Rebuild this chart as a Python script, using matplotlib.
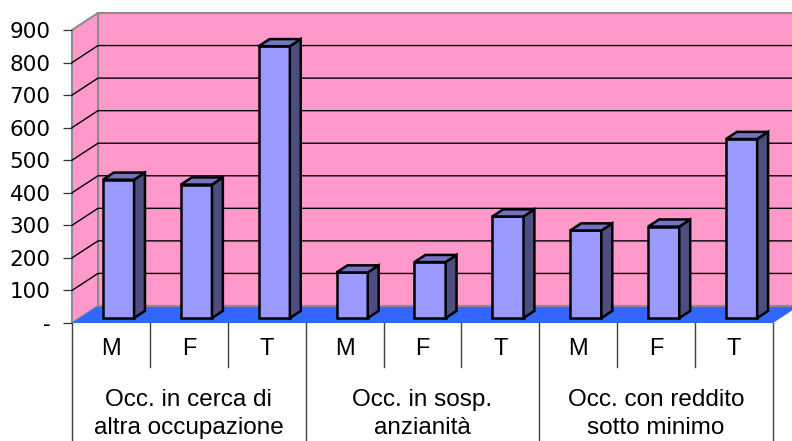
import matplotlib
matplotlib.use("Agg")
import matplotlib.pyplot as plt
from matplotlib.patches import Polygon

# ---- data ----
group_labels = ["Occ. in cerca di\naltra occupazione",
                "Occ. in sosp.\nanzianità",
                "Occ. con reddito\nsotto minimo"]
sex_labels = ["M", "F", "T"]
occ_cerca = [425, 410, 835]
occ_sosp = [140, 172, 312]
occ_reddito = [269, 281, 550]
y_ticks = [0, 100, 200, 300, 400, 500, 600, 700, 800, 900]
y_tick_labels = ["-", "100", "200", "300", "400", "500", "600", "700", "800", "900"]

values = occ_cerca + occ_sosp + occ_reddito
n = len(values)
ymax = y_ticks[-1]

# ---- colours ----
PINK = "#FF99CC"
FLOOR = "#3366FF"
WALL_EDGE = "#8C8C8C"
BAR_FRONT = "#9999FF"
BAR_SIDE = "#4D4D80"
BAR_TOP = "#7373BF"

W, H = 792, 441
fig = plt.figure(figsize=(W / 100, H / 100), dpi=100)
fig.patch.set_facecolor("white")

L, R, T, B = 72, 773, 30, 323  # front plane in pixels
ax = fig.add_axes([L / W, 1 - B / H, (R - L) / W, (B - T) / H])
ax.set_xlim(0, n)
ax.set_ylim(0, ymax)
ax.patch.set_visible(False)
for s in ax.spines.values():
    s.set_visible(False)

px_x = (R - L) / n
px_y = (B - T) / ymax
DX = 26 / px_x
DY = 17 / px_y


def P(x, y, z):
    return (x + z * DX, y + z * DY)


def poly(pts, **kw):
    ax.add_patch(Polygon(pts, closed=True, clip_on=False, **kw))


# back wall
poly([P(0, 0, 1), P(n, 0, 1), P(n, ymax, 1), P(0, ymax, 1)],
     facecolor=PINK, edgecolor=WALL_EDGE, lw=1.5, zorder=1)
# left wall
poly([P(0, 0, 0), P(0, 0, 1), P(0, ymax, 1), P(0, ymax, 0)],
     facecolor=PINK, edgecolor=WALL_EDGE, lw=1.5, zorder=1)

# gridlines
for v in y_ticks[1:-1]:
    pts = [P(0, v, 0), P(0, v, 1), P(n, v, 1)]
    ax.plot([p[0] for p in pts], [p[1] for p in pts], color="black",
            lw=1.0, clip_on=False, zorder=2)

# floor
poly([P(0, 0, 0), P(n, 0, 0), P(n, 0, 1), P(0, 0, 1)],
     facecolor=FLOOR, edgecolor="none", zorder=3)
ax.plot([P(0, 0, 1)[0], P(n, 0, 1)[0]], [P(0, 0, 1)[1], P(n, 0, 1)[1]],
        color=WALL_EDGE, lw=1.5, clip_on=False, zorder=3)

# bars
hw = 0.2
z0, z1 = 0.29, 0.71
for i, v in enumerate(values):
    c = i + 0.5
    x0, x1 = c - hw, c + hw
    kw = dict(edgecolor="black", lw=1.8, joinstyle="miter", zorder=5)
    poly([P(x0, 0, z0), P(x1, 0, z0), P(x1, v, z0), P(x0, v, z0)],
         facecolor=BAR_FRONT, **kw)
    poly([P(x1, 0, z0), P(x1, 0, z1), P(x1, v, z1), P(x1, v, z0)],
         facecolor=BAR_SIDE, **kw)
    poly([P(x0, v, z0), P(x1, v, z0), P(x1, v, z1), P(x0, v, z1)],
         facecolor=BAR_TOP, **kw)

# y axis ticks
ax.set_xticks([])
ax.set_yticks(y_ticks, y_tick_labels)
ax.tick_params(axis="y", length=6.5, width=0.9, color="#333333", pad=9,
               labelsize=15.5)
for lab in ax.get_yticklabels():
    lab.set_fontfamily("DejaVu Sans")
    lab.set_color("black")

# ---- category table below ----
tax = fig.add_axes([L / W, 0, (R - L) / W, (H - B) / H])
tax.set_xlim(0, n)
tax.set_ylim(H - B, 0)
tax.axis("off")
for k in range(n + 1):
    bottom = (H - B) if k % 3 == 0 else 44
    tax.plot([k, k], [0, bottom], color="#404040", lw=1.0, clip_on=False)
for i in range(n):
    tax.text(i + 0.5, 26, sex_labels[i % 3], ha="center", va="center",
             fontsize=17, family="Liberation Sans", color="black")
for g, lab in enumerate(group_labels):
    tax.text(3 * g + 1.5, 91, lab, ha="center", va="center",
             fontsize=17.5, family="Liberation Sans", color="black",
             linespacing=1.3)

fig.savefig("out.png", dpi=100)
